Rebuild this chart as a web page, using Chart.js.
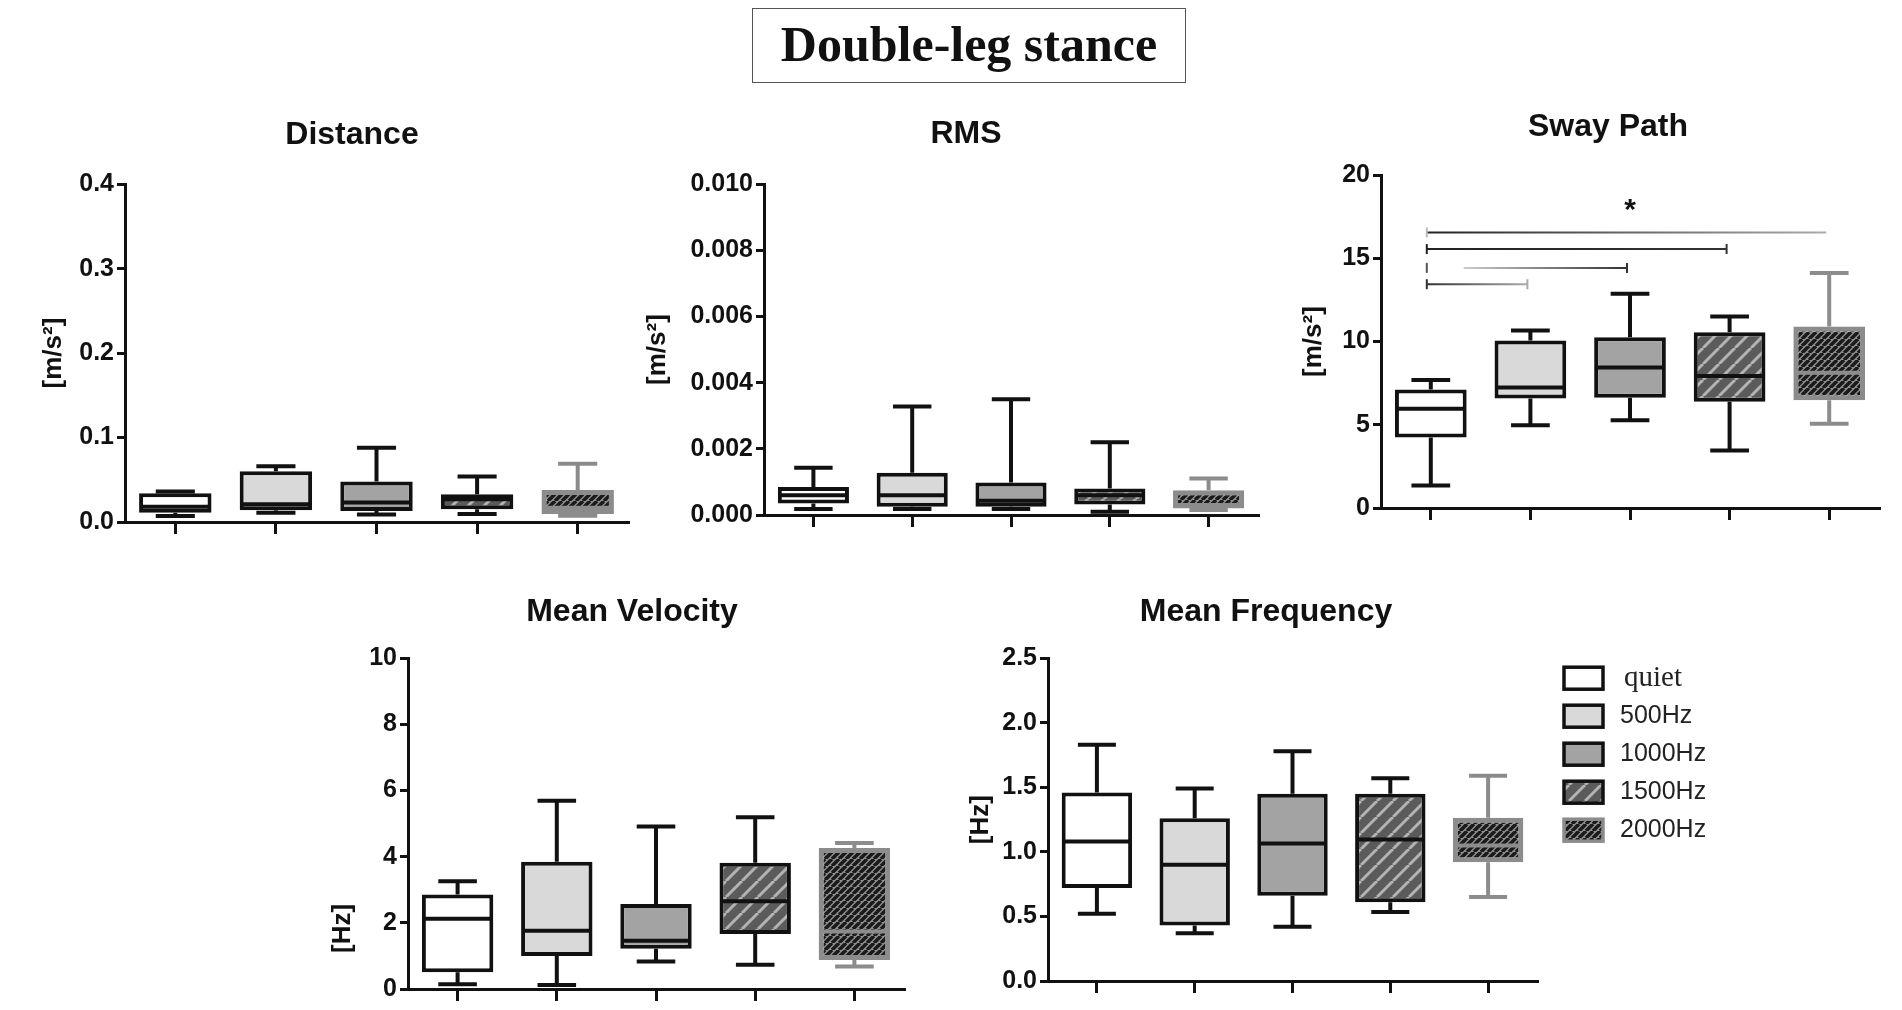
<!DOCTYPE html>
<html>
<head>
<meta charset="utf-8">
<script src="https://cdn.jsdelivr.net/npm/chart.js@4.4.1/dist/chart.umd.min.js"></script>
<style>
  body { margin: 0; background: #fff; width: 1902px; height: 1010px; overflow: hidden; position: relative; }
  canvas { position: absolute; }
  #head {
    position: absolute; left: 752px; top: 8px; width: 434px; height: 75px;
    border: 1.5px solid #555; box-sizing: border-box;
    font: bold 50px "Liberation Serif", serif; color: #111;
    text-align: center; line-height: 70px;
  }
</style>
</head>
<body>
<div id="head">Double-leg stance</div>
<canvas id="distance"></canvas>
<canvas id="rms"></canvas>
<canvas id="sway"></canvas>
<canvas id="velocity"></canvas>
<canvas id="frequency"></canvas>
<script>
const groups = ['quiet', '500Hz', '1000Hz', '1500Hz', '2000Hz'];

// Distance [m/s2]
const distMin = [0.007, 0.011, 0.009, 0.0095, 0.0075];
const distQ1  = [0.011, 0.014, 0.013, 0.015, 0.0095];
const distMed = [0.018, 0.021, 0.023, 0.027, 0.017];
const distQ3  = [0.034, 0.060, 0.048, 0.033, 0.038];
const distMax = [0.036, 0.066, 0.088, 0.054, 0.069];

// RMS [m/s2]
const rmsMin = [0.00018, 0.00018, 0.00018, 0.0001, 0.00015];
const rmsQ1  = [0.00035, 0.00025, 0.00025, 0.00032, 0.0002];
const rmsMed = [0.0006, 0.0006, 0.00043, 0.0006, 0.0003];
const rmsQ3  = [0.00085, 0.00128, 0.00098, 0.0008, 0.00075];
const rmsMax = [0.00143, 0.00328, 0.0035, 0.0022, 0.0011];

// Sway Path [m/s2]
const swayMin = [1.35, 4.97, 5.27, 3.46, 5.07];
const swayQ1  = [4.23, 6.58, 6.62, 6.38, 6.48];
const swayMed = [5.96, 7.24, 8.45, 7.93, 8.13];
const swayQ3  = [7.12, 10.06, 10.26, 10.56, 10.9];
const swayMax = [7.69, 10.66, 12.88, 11.51, 14.12];

// significance brackets on Sway Path (category index from/to, height)
const sigFrom = [0, 0, 0.33, 0];
const sigTo   = [4, 3, 2, 1];
const sigY    = [16.56, 15.56, 14.43, 13.45];
const starX = 2, starY = 18.2;

// Mean Velocity [Hz]
const velMin = [0.14, 0.12, 0.83, 0.73, 0.68];
const velQ1  = [0.51, 1.0, 1.22, 1.66, 0.88];
const velMed = [2.12, 1.76, 1.46, 2.65, 1.74];
const velQ3  = [2.86, 3.85, 2.57, 3.82, 4.26];
const velMax = [3.26, 5.69, 4.91, 5.19, 4.41];

// Mean Frequency [Hz]
const freqMin = [0.52, 0.37, 0.42, 0.535, 0.65];
const freqQ1  = [0.72, 0.43, 0.66, 0.61, 0.92];
const freqMed = [1.08, 0.90, 1.065, 1.095, 1.05];
const freqQ3  = [1.46, 1.26, 1.45, 1.45, 1.265];
const freqMax = [1.83, 1.49, 1.78, 1.57, 1.59];

Chart.defaults.font.family = '"Liberation Sans", Arial, sans-serif';
Chart.defaults.color = '#111';

function hatch(size, base, stripe, width) {
  const c = document.createElement('canvas');
  c.width = c.height = size;
  const g = c.getContext('2d');
  g.fillStyle = base;
  g.fillRect(0, 0, size, size);
  g.strokeStyle = stripe;
  g.lineWidth = width;
  g.beginPath();
  for (const k of [-size, 0, size]) {
    g.moveTo(k, size);
    g.lineTo(k + size, 0);
  }
  g.stroke();
  return g.createPattern(c, 'repeat');
}

const fills = ['#ffffff', '#d9d9d9', '#a3a3a3', hatch(16, '#5b5b5b', '#b3b3b3', 3), hatch(7, '#8e8e8e', '#1a1a1a', 3.5)];
const edges = ['#111', '#111', '#111', '#111', '#8c8c8c'];

// whiskers, caps and median lines
const boxPlugin = {
  id: 'whiskers',
  afterDatasetsDraw(chart, args, opts) {
    const { ctx, scales: { y } } = chart;
    const s = opts.stats;
    ctx.save();
    chart.getDatasetMeta(0).data.forEach((bar, i) => {
      const cx = bar.x, w = bar.width, cap = w * 0.27;
      const yMin = y.getPixelForValue(s.min[i]);
      const yQ1 = y.getPixelForValue(s.q1[i]);
      const yMed = y.getPixelForValue(s.med[i]);
      const yQ3 = y.getPixelForValue(s.q3[i]);
      const yMax = y.getPixelForValue(s.max[i]);
      ctx.strokeStyle = edges[i];
      ctx.lineWidth = 4;
      ctx.beginPath();
      ctx.moveTo(cx, yQ3); ctx.lineTo(cx, yMax);
      ctx.moveTo(cx - cap, yMax); ctx.lineTo(cx + cap, yMax);
      ctx.moveTo(cx, yQ1); ctx.lineTo(cx, yMin);
      ctx.moveTo(cx - cap, yMin); ctx.lineTo(cx + cap, yMin);
      ctx.moveTo(cx - w / 2 + 2, yMed); ctx.lineTo(cx + w / 2 - 2, yMed);
      ctx.stroke();
    });
    ctx.restore();
  }
};

const sigPlugin = {
  id: 'significance',
  afterDatasetsDraw(chart) {
    const { ctx, scales: { x, y } } = chart;
    const shades = [['#222', '#aaa'], ['#222', '#333'], ['#ccc', '#333'], ['#333', '#aaa']];
    const leftCaps = ['#bbb', '#222', '#555', '#333'];
    const x0 = x.getPixelForValue(0) - 4;
    ctx.save();
    ctx.lineWidth = 2;
    sigY.forEach((v, i) => {
      const xa = sigFrom[i] === 0 ? x0 : x.getPixelForValue(sigFrom[i]);
      const xb = x.getPixelForValue(sigTo[i]) - 3;
      const yy = y.getPixelForValue(v);
      const grad = ctx.createLinearGradient(xa, 0, xb, 0);
      grad.addColorStop(0, shades[i][0]);
      grad.addColorStop(1, shades[i][1]);
      ctx.strokeStyle = grad;
      ctx.beginPath();
      ctx.moveTo(xa, yy); ctx.lineTo(xb, yy);
      if (i > 0) { ctx.moveTo(xb, yy - 5); ctx.lineTo(xb, yy + 5); }
      ctx.stroke();
      ctx.strokeStyle = leftCaps[i];
      ctx.beginPath();
      ctx.moveTo(x0, yy - 5); ctx.lineTo(x0, yy + 5);
      ctx.stroke();
    });
    ctx.fillStyle = '#111';
    ctx.font = 'bold 30px "Liberation Sans"';
    ctx.textAlign = 'center';
    ctx.textBaseline = 'middle';
    ctx.fillText('*', x.getPixelForValue(starX), y.getPixelForValue(starY) + 6);
    ctx.restore();
  }
};

const legendPlugin = {
  id: 'sideLegend',
  afterDraw(chart) {
    const { ctx, chartArea } = chart;
    ctx.save();
    groups.forEach((g, i) => {
      const bx = chartArea.right + 27, by = chartArea.top + 9 + i * 38;
      ctx.fillStyle = fills[i];
      ctx.fillRect(bx, by, 39, 22);
      ctx.strokeStyle = edges[i];
      ctx.lineWidth = 3.5;
      ctx.strokeRect(bx, by, 39, 22);
      ctx.fillStyle = '#222';
      ctx.textBaseline = 'middle';
      ctx.font = i === 0 ? '29px "Liberation Serif"' : '25px "Liberation Sans"';
      ctx.fillText(g, bx + (i === 0 ? 60 : 56), by + 11);
    });
    ctx.restore();
  }
};

function boxChart(id, geo, title, yTitle, yMax, step, dec, st, extra, yTitleAlign) {
  const band = 2 * geo.titleX - geo.x1;   // left edge of the title band
  const padL = 130, padR = geo.pr || 10;
  const left = band - padL;
  const top = geo.titleY - 19.2;
  const el = document.getElementById(id);
  el.style.left = left + 'px';
  el.style.top = top + 'px';
  el.width = geo.x1 + padR - left;
  el.height = geo.yBot + 30 - top;
  return new Chart(el, {
    type: 'bar',
    data: {
      labels: groups,
      datasets: [{
        data: st.q1.map((v, i) => [v, st.q3[i]]),
        backgroundColor: fills,
        borderColor: edges,
        borderWidth: [4, 4, 4, 4, 5],
        borderSkipped: false,
        barPercentage: 0.72,
        categoryPercentage: 1
      }]
    },
    options: {
      responsive: false,
      animation: false,
      devicePixelRatio: 1,
      layout: { padding: { left: padL, top: 0, bottom: 0, right: padR } },
      plugins: {
        legend: { display: false },
        tooltip: { enabled: false },
        title: {
          display: true, text: title, color: '#111',
          font: { size: 32, weight: 'bold' },
          padding: { top: 0, bottom: geo.yTop - geo.titleY - 19.2 }
        },
        whiskers: { stats: st }
      },
      scales: {
        x: {
          type: 'category',
          offset: true,
          grid: { display: true, offset: false, drawOnChartArea: false, color: '#111', lineWidth: 3, tickLength: 12 },
          border: { color: '#111', width: 3 },
          ticks: { display: false },
          afterFit(s) { s.height = 30; }
        },
        y: {
          min: 0, max: yMax,
          ticks: { stepSize: step, color: '#111', padding: 3, font: { size: 25, weight: 'bold' }, callback: v => v.toFixed(dec) },
          grid: { drawOnChartArea: false, color: '#111', lineWidth: 3, tickLength: 8 },
          border: { color: '#111', width: 3 },
          title: {
            display: true, text: yTitle, color: '#111', align: yTitleAlign || 'center',
            font: { size: 26, weight: 'bold' },
            padding: { top: geo.yTitleX - band - 15.6, bottom: 0 }
          },
          afterFit(s) { s.width = geo.x0 - band; }
        }
      }
    },
    plugins: [boxPlugin].concat(extra || [])
  });
}

boxChart('distance', { x0: 125, x1: 628, yTop: 184, yBot: 522, titleX: 352, titleY: 135, yTitleX: 54 },
  'Distance', '[m/s\u00b2]', 0.4, 0.1, 1,
  { min: distMin, q1: distQ1, med: distMed, q3: distQ3, max: distMax });

boxChart('rms', { x0: 764, x1: 1258, yTop: 184, yBot: 515, titleX: 966, titleY: 134, yTitleX: 658 },
  'RMS', '[m/s\u00b2]', 0.01, 0.002, 3,
  { min: rmsMin, q1: rmsQ1, med: rmsMed, q3: rmsQ3, max: rmsMax });

boxChart('sway', { x0: 1381, x1: 1879, yTop: 175, yBot: 508, titleX: 1608, titleY: 127, yTitleX: 1314 },
  'Sway Path', '[m/s\u00b2]', 20, 5, 0,
  { min: swayMin, q1: swayQ1, med: swayMed, q3: swayQ3, max: swayMax }, [sigPlugin]);

boxChart('velocity', { x0: 408, x1: 904, yTop: 658, yBot: 989, titleX: 632, titleY: 612, yTitleX: 343 },
  'Mean Velocity', '\u00a0\u00a0\u00a0\u00a0\u00a0[Hz]', 10, 2, 0,
  { min: velMin, q1: velQ1, med: velMed, q3: velQ3, max: velMax }, [], 'start');

boxChart('frequency', { x0: 1048, x1: 1537, yTop: 658, yBot: 981, titleX: 1266, titleY: 612, yTitleX: 981, pr: 240 },
  'Mean Frequency', '[Hz]', 2.5, 0.5, 1,
  { min: freqMin, q1: freqQ1, med: freqMed, q3: freqQ3, max: freqMax }, [legendPlugin]);
</script>
</body>
</html>
